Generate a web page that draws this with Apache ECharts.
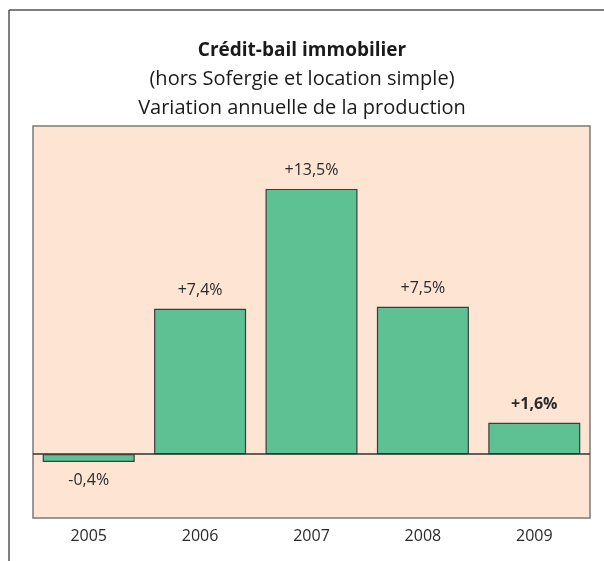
<!DOCTYPE html>
<html>
<head>
<meta charset="utf-8">
<script src="https://cdn.jsdelivr.net/npm/echarts@6/dist/echarts.min.js"></script>
<style>
  html, body { margin: 0; padding: 0; background: #fff; }
  #chart { width: 604px; height: 561px; }
</style>
</head>
<body>
<div id="chart"></div>
<script>
  // annees et variation annuelle (%)
  var years = ["2005", "2006", "2007", "2008", "2009"]
  var variation = [-0.4, 7.4, 13.5, 7.5, 1.6]
  var boldYears = ["2009"]

  var fmt = function (v) {
    return (v > 0 ? "+" : "") + String(v.toFixed(1)).replace(".", ",") + "%"
  }

  var myChart = echarts.init(document.getElementById("chart"))
  myChart.setOption({
    animation: false,
    textStyle: { fontFamily: "Open Sans" },
    title: {
      left: "center",
      top: 33,
      itemGap: 2,
      text: "Crédit-bail immobilier",
      textStyle: { fontSize: 19, fontWeight: "bold", color: "#1a1a1a", lineHeight: 25 },
      subtext: "(hors Sofergie et location simple)\nVariation annuelle de la production",
      subtextStyle: { fontSize: 20, color: "#1a1a1a", lineHeight: 29 }
    },
    graphic: [
      { type: "line", shape: { x1: 9, y1: 10, x2: 604, y2: 10 }, style: { stroke: "#555", lineWidth: 1.5 } },
      { type: "line", shape: { x1: 9, y1: 10, x2: 9, y2: 561 }, style: { stroke: "#555", lineWidth: 1.5 } }
    ],
    grid: {
      left: 33,
      right: 14,
      top: 126,
      bottom: 43,
      show: true,
      backgroundColor: "#fde4d3",
      borderColor: "#7a7a7a",
      borderWidth: 1.5
    },
    xAxis: {
      type: "category",
      data: years,
      axisLine: { show: false },
      axisTick: { show: false },
      axisLabel: { color: "#2a2a2a", fontSize: 16, margin: 10 }
    },
    yAxis: {
      type: "value",
      min: -3.25,
      max: 16.7,
      show: false,
      splitLine: { show: false }
    },
    series: [
      {
        type: "bar",
        barWidth: 92,
        data: variation.map(function (v, i) {
          var bold = boldYears.indexOf(years[i]) >= 0
          return {
            value: v,
            label: {
              position: v < 0 ? "bottom" : "top",
              fontWeight: bold ? "bold" : "normal"
            }
          }
        }),
        itemStyle: { color: "#5ec194", borderColor: "#3c3c3c", borderWidth: 1.2 },
        label: {
          show: true,
          distance: 10,
          color: "#2a2a2a",
          fontSize: 16,
          formatter: function (p) { return fmt(p.value) }
        },
        markLine: {
          silent: true,
          symbol: "none",
          label: { show: false },
          lineStyle: { color: "#333", width: 1.5, type: "solid" },
          data: [{ yAxis: 0 }]
        }
      }
    ]
  })
</script>
</body>
</html>
